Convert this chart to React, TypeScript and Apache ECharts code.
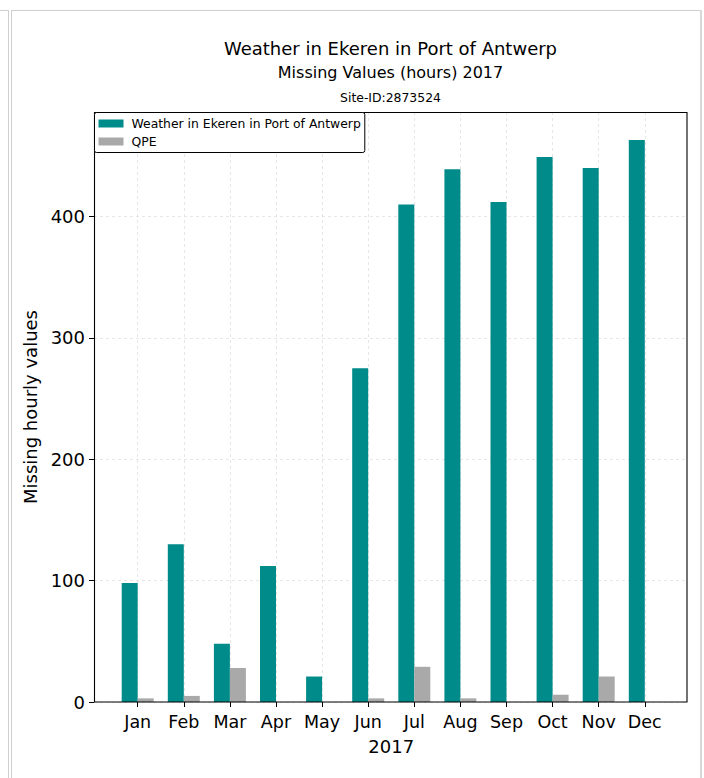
import React, { useEffect, useRef } from "react";
import * as echarts from "echarts";

const months = ["Jan", "Feb", "Mar", "Apr", "May", "Jun", "Jul", "Aug", "Sep", "Oct", "Nov", "Dec"];
const weatherMissing = [98, 130, 48, 112, 21, 275, 410, 439, 412, 449, 440, 463];
const qpeMissing = [3, 5, 28, 0, 0, 3, 29, 3, 0, 6, 21, 0];
const yTicks = [0, 100, 200, 300, 400];
const seriesNames = ["Weather in Ekeren in Port of Antwerp", "QPE"];
const titleLines = ["Weather in Ekeren in Port of Antwerp", "Missing Values (hours) 2017", "Site-ID:2873524"];
const xAxisName = "2017";
const yAxisName = "Missing hourly values";

const FONT = "DejaVu Sans";

export default function App() {
  const ref = useRef<HTMLDivElement>(null);
  useEffect(() => {
    if (!ref.current) return;
    const chart = echarts.init(ref.current, null, { renderer: "svg" });
    const yMax = Math.max(...weatherMissing) * 1.05;
    const gridLine = { show: true, interval: 0, lineStyle: { color: "#e0e0e0", type: [3, 3], width: 0.8 } };
    chart.setOption({
      animation: false,
      backgroundColor: "#fff",
      textStyle: { fontFamily: FONT },
      graphic: [
        { type: "line", shape: { x1: 0, y1: 10.5, x2: 8.5, y2: 10.5 }, style: { stroke: "#cfcfcf", lineWidth: 1 } },
        { type: "line", shape: { x1: 8.5, y1: 10, x2: 8.5, y2: 778 }, style: { stroke: "#cfcfcf", lineWidth: 1 } },
        { type: "line", shape: { x1: 11.5, y1: 10.5, x2: 700, y2: 10.5 }, style: { stroke: "#cfcfcf", lineWidth: 1 } },
        { type: "line", shape: { x1: 11.5, y1: 10, x2: 11.5, y2: 778 }, style: { stroke: "#cfcfcf", lineWidth: 1 } },
        { type: "line", shape: { x1: 701, y1: 10, x2: 701, y2: 778 }, style: { stroke: "#d8d8d8", lineWidth: 2 } },
        {
          type: "rect",
          z: 50,
          shape: { x: 94.5, y: 112.5, width: 592.5, height: 589.5 },
          style: { fill: "none", stroke: "#000", lineWidth: 1.1 },
          silent: true,
        },
        { type: "text", x: 390.5, y: 48, style: { text: titleLines[0], fontSize: 18, fontFamily: FONT, fill: "#000", textAlign: "center", textVerticalAlign: "middle" } },
        { type: "text", x: 390.5, y: 72, style: { text: titleLines[1], fontSize: 16, fontFamily: FONT, fill: "#000", textAlign: "center", textVerticalAlign: "middle" } },
        { type: "text", x: 390.5, y: 97, style: { text: titleLines[2], fontSize: 12.4, fontFamily: FONT, fill: "#000", textAlign: "center", textVerticalAlign: "middle" } },
      ],
      legend: {
        orient: "vertical",
        left: 94.5,
        top: 112.5,
        z: 60,
        data: seriesNames,
        icon: "rect",
        itemWidth: 25,
        itemHeight: 8,
        itemGap: 4,
        padding: [4, 4, 4, 4],
        backgroundColor: "#fff",
        borderColor: "#000",
        borderWidth: 1,
        borderRadius: 2,
        textStyle: { fontSize: 12.4, fontFamily: FONT, color: "#000", lineHeight: 14, padding: [0, 0, 0, 3] },
      },
      grid: [
        { left: 94, right: 17, top: 112, bottom: 76 },
        { left: 137.7, right: 59.2, top: 112, bottom: 76 },
      ],
      xAxis: [
        { type: "value", gridIndex: 0, min: 0, max: 1, show: false },
        {
          type: "category",
          gridIndex: 1,
          data: months,
          boundaryGap: false,
          axisLine: { show: false },
          axisTick: { show: true, interval: 0, length: 5, lineStyle: { color: "#000" } },
          axisLabel: { fontSize: 17.5, color: "#000", margin: 11, fontFamily: FONT, interval: 0, hideOverlap: false },
          splitLine: gridLine,
          name: xAxisName,
          nameLocation: "middle",
          nameGap: 35,
          nameTextStyle: { fontSize: 18, color: "#000", fontFamily: FONT },
        },
      ],
      yAxis: [
        {
          type: "value",
          gridIndex: 0,
          min: 0,
          max: yMax,
          interval: 100,
          axisLine: { show: false },
          axisTick: { show: true, length: 5, lineStyle: { color: "#000" } },
          axisLabel: {
            fontSize: 18,
            color: "#000",
            margin: 9,
            fontFamily: FONT,
            showMaxLabel: false,
            formatter: (v: number) => (yTicks.includes(v) ? String(v) : ""),
          },
          splitLine: { show: true, lineStyle: { color: "#e0e0e0", type: [3, 3], width: 0.8 } },
          name: yAxisName,
          nameLocation: "middle",
          nameGap: 53,
          nameTextStyle: { fontSize: 18, color: "#000", fontFamily: FONT },
        },
        { type: "value", gridIndex: 1, min: 0, max: yMax, show: false },
      ],
      series: [
        {
          name: seriesNames[0],
          type: "bar",
          xAxisIndex: 1,
          yAxisIndex: 1,
          data: weatherMissing,
          barWidth: 16,
          barGap: "0%",
          clip: false,
          itemStyle: { color: "#008B8B" },
        },
        {
          name: seriesNames[1],
          type: "bar",
          xAxisIndex: 1,
          yAxisIndex: 1,
          data: qpeMissing,
          barWidth: 16,
          barGap: "0%",
          clip: false,
          itemStyle: { color: "#A9A9A9" },
        },
      ],
    });
    return () => chart.dispose();
  }, []);
  return <div ref={ref} style={{ position: "fixed", left: 0, top: 0, width: 704, height: 778 }} />;
}
